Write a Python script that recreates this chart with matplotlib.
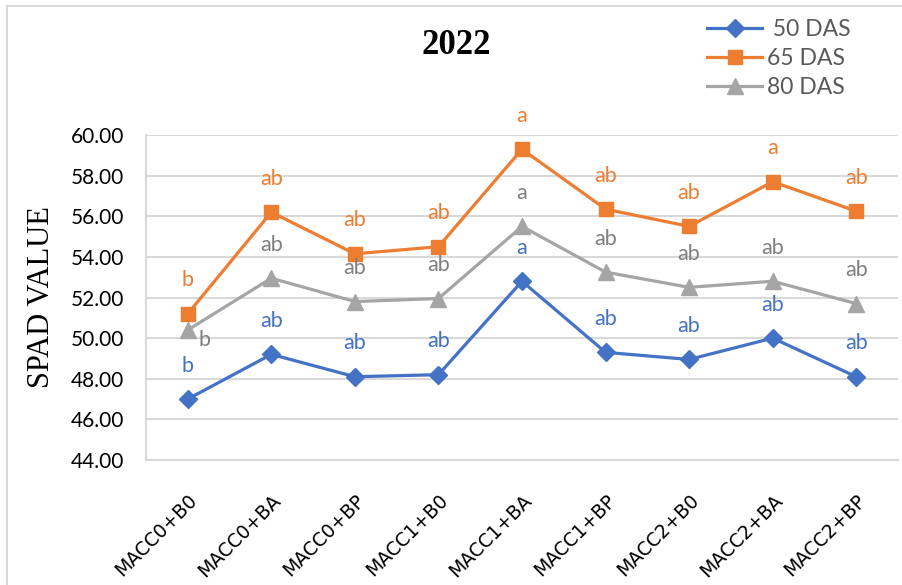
import matplotlib
matplotlib.use("Agg")
import matplotlib.pyplot as plt
from matplotlib.patches import Rectangle

categories = ["MACC0+B0", "MACC0+BA", "MACC0+BP", "MACC1+B0", "MACC1+BA",
              "MACC1+BP", "MACC2+B0", "MACC2+BA", "MACC2+BP"]

das50 = [47.0, 49.2, 48.1, 48.2, 52.8, 49.3, 48.95, 50.0, 48.1]
das65 = [51.2, 56.2, 54.15, 54.5, 59.3, 56.35, 55.5, 57.7, 56.25]
das80 = [50.4, 52.95, 51.8, 51.95, 55.5, 53.25, 52.5, 52.8, 51.7]

letters50 = ["b", "ab", "ab", "ab", "a", "ab", "ab", "ab", "ab"]
letters65 = ["b", "ab", "ab", "ab", "a", "ab", "ab", "a", "ab"]
letters80 = ["b", "ab", "ab", "ab", "a", "ab", "ab", "ab", "ab"]

series_names = [" 50 DAS", "65 DAS", "80 DAS"]

BLUE = "#4472c4"
ORANGE = "#ed7d31"
GRAY = "#a5a5a5"
GRAY_TXT = "#7f7f7f"
GRID = "#d9d9d9"

W, H = 902, 585
fig = plt.figure(figsize=(W / 100, H / 100), dpi=100)
ax = fig.add_axes([146 / W, 1 - 460 / H, (898 - 146) / W, (460 - 135) / H])

# chart border
fig.patches.append(Rectangle((7 / W, -0.05), 1.2, 0.05 + 1 - 6 / H,
                             transform=fig.transFigure, fill=False,
                             edgecolor=GRID, linewidth=1.5))

x = list(range(len(categories)))
ax.plot(x, das50, color=BLUE, lw=2.3, marker="D", ms=9, label=series_names[0], zorder=3)
ax.plot(x, das65, color=ORANGE, lw=2.3, marker="s", ms=10, label=series_names[1], zorder=3)
ax.plot(x, das80, color=GRAY, lw=2.3, marker="^", ms=11, label=series_names[2], zorder=3)

lab_font = dict(family="Lato", fontsize=15.5, ha="center", va="center")
for i in x:
    ax.annotate(letters50[i], (i, das50[i]), xytext=(0, 24), textcoords="offset points",
                color=BLUE, **lab_font)
    ax.annotate(letters65[i], (i, das65[i]), xytext=(0, 24), textcoords="offset points",
                color=ORANGE, **lab_font)
    off = (12, -7) if i == 0 else (0, 24)
    ax.annotate(letters80[i], (i, das80[i]), xytext=off, textcoords="offset points",
                color=GRAY_TXT, **lab_font)

ax.set_xlim(-0.5, 8.5)
ax.set_ylim(44, 60)
ax.set_yticks([44, 46, 48, 50, 52, 54, 56, 58, 60])
ax.set_yticklabels([f"{v:.2f}" for v in ax.get_yticks()], family="Lato", fontsize=15)
ax.set_xticks(x)
ax.set_xticklabels(categories, rotation=45, ha="right", va="top", rotation_mode="anchor",
                   family="DejaVu Sans", fontsize=13.5)
ax.tick_params(axis="y", length=0, pad=16)
ax.tick_params(axis="x", length=0, pad=22)
ax.grid(axis="y", color=GRID, lw=1.5)
ax.set_axisbelow(True)
for s in ["top", "right"]:
    ax.spines[s].set_visible(False)
ax.spines["left"].set_color(GRID)
ax.spines["left"].set_linewidth(1.5)
ax.spines["bottom"].set_color(GRID)
ax.spines["bottom"].set_linewidth(1.5)

fig.text(456 / W, 1 - 45 / H, "2022", family="Liberation Serif", weight="bold",
         fontsize=25, ha="center", va="center")
fig.text(42 / W, 1 - 297 / H, "SPAD VALUE", family="Liberation Serif", fontsize=22,
         rotation=90, ha="center", va="center")

leg = ax.legend(loc="upper left", bbox_to_anchor=(707 / W, 1 - 19 / H),
                bbox_transform=fig.transFigure, frameon=False, borderpad=0,
                borderaxespad=0, handlelength=2.4, handletextpad=0.2,
                labelspacing=0.36, prop=dict(family="Lato", size=16.5))
for t in leg.get_texts():
    t.set_color("#595959")

fig.savefig("out.png", dpi=100)
